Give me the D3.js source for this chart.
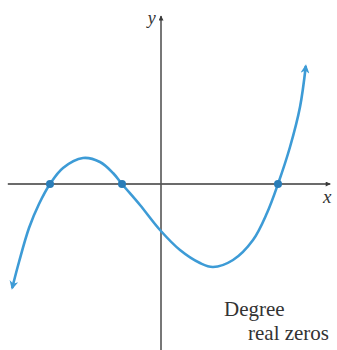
<!DOCTYPE html>
<html><head><meta charset="utf-8">
<script src="https://cdn.jsdelivr.net/npm/d3@7"></script>
<style>html,body{margin:0;padding:0;background:#fff;}svg{display:block;}</style>
</head><body>
<script>
// Curve points (x, y in graph units)
const curveX = [-3.72, -3.55, -3.3, -3.05, -2.775, -2.45, -1.95, -1.525, -1.2, -0.975, -0.525, -0.025, 0.475, 0.975, 1.3, 1.8, 2.3, 2.65, 2.925, 3.225, 3.475, 3.62];
const curveY = [-2.6, -1.95, -1.1, -0.5, 0, 0.4, 0.65, 0.55, 0.275, 0, -0.525, -1.15, -1.65, -1.975, -2.075, -1.9, -1.4, -0.725, 0, 0.925, 1.925, 2.95];
const zeros = [-2.775, -0.975, 2.925];
const axisLabels = ["x", "y"];
const noteLines = ["Degree", "real zeros"];

const W = 337, H = 350;
const svg = d3.select("body").append("svg").attr("width", W).attr("height", H);
const x = d3.scaleLinear().domain([-4, 4]).range([1, 321]);
const y = d3.scaleLinear().domain([-4.15, 4.6]).range([350, 0]);

const axisCol = "#3a3a3a", blue = "#3d9bd6", dotCol = "#2a7db8";
const defs = svg.append("defs");
defs.append("marker").attr("id", "axArrow").attr("viewBox", "0 0 10 10").attr("refX", 9).attr("refY", 5)
  .attr("markerWidth", 7).attr("markerHeight", 5).attr("markerUnits", "userSpaceOnUse").attr("orient", "auto")
  .append("path").attr("d", "M0,0 L10,5 L0,10 z").attr("fill", axisCol);
defs.append("marker").attr("id", "cvArrow").attr("viewBox", "0 0 10 10").attr("refX", 8).attr("refY", 5)
  .attr("markerWidth", 11).attr("markerHeight", 9).attr("markerUnits", "userSpaceOnUse").attr("orient", "auto-start-reverse")
  .append("path").attr("d", "M0,0 L10,5 L0,10 L3,5 z").attr("fill", blue);

// axes
svg.append("line").attr("x1", x(-3.83)).attr("x2", x(4.23)).attr("y1", y(0)).attr("y2", y(0))
  .attr("stroke", axisCol).attr("stroke-width", 1.6).attr("marker-end", "url(#axArrow)");
svg.append("line").attr("x1", x(0)).attr("x2", x(0)).attr("y1", y(-4.15)).attr("y2", y(4.2))
  .attr("stroke", "#555").attr("stroke-width", 1.6).attr("marker-end", "url(#axArrow)");

// curve
const pts = curveX.map((v, i) => [v, curveY[i]]);
svg.append("path").datum(pts)
  .attr("d", d3.line().x(d => x(d[0])).y(d => y(d[1])).curve(d3.curveCatmullRom.alpha(0.5)))
  .attr("fill", "none").attr("stroke", blue).attr("stroke-width", 2.6)
  .attr("marker-start", "url(#cvArrow)").attr("marker-end", "url(#cvArrow)");

// zeros
svg.selectAll("circle.z").data(zeros).join("circle").attr("class", "z")
  .attr("cx", d => x(d)).attr("cy", y(0)).attr("r", 4).attr("fill", dotCol);

// labels
svg.append("text").attr("x", x(4.05)).attr("y", y(-0.48)).text(axisLabels[0])
  .attr("font-family", "Liberation Serif").attr("font-style", "italic").attr("font-size", 19).attr("fill", "#333");
svg.append("text").attr("x", x(-0.33)).attr("y", y(4.0)).text(axisLabels[1])
  .attr("font-family", "Liberation Serif").attr("font-style", "italic").attr("font-size", 18).attr("fill", "#333");
svg.append("text").attr("x", 224).attr("y", 316).text(noteLines[0])
  .attr("font-family", "Liberation Serif").attr("font-size", 21).attr("fill", "#333");
svg.append("text").attr("x", 248).attr("y", 340).text(noteLines[1])
  .attr("font-family", "Liberation Serif").attr("font-size", 21).attr("fill", "#333");
</script>
</body></html>
